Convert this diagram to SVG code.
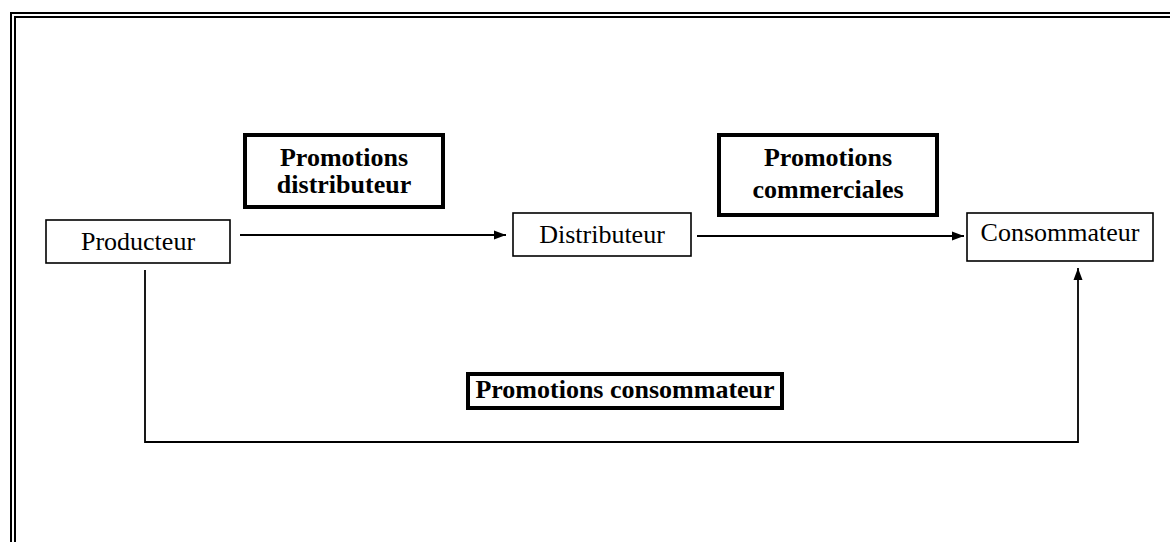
<svg xmlns="http://www.w3.org/2000/svg" width="1170" height="542" viewBox="0 0 1170 542">
<style>
.frame{stroke:#000;stroke-width:2;fill:none}
.node{fill:#fff;stroke:#000;stroke-width:1.6}
.label{fill:#fff;stroke:#000;stroke-width:4}
.t{font-family:"Liberation Serif","Times New Roman",serif;font-size:26px;fill:#000;text-anchor:middle}
.b{font-family:"Liberation Serif","Times New Roman",serif;font-size:26px;font-weight:bold;fill:#000;text-anchor:middle}
.edge{stroke:#000;stroke-width:1.8;fill:none}
</style>
<defs>
<marker id="arr" viewBox="0 0 12 10" refX="12" refY="5" markerWidth="12" markerHeight="10" markerUnits="userSpaceOnUse" orient="auto">
<path d="M0,0.5 L12,5 L0,9.5 Z" fill="#000"/>
</marker>
</defs>
<rect width="1170" height="542" fill="#fff"/>
<g id="frame">
<path class="frame" d="M11,542 V13 H1170"/>
<path class="frame" d="M15,542 V17 H1170"/>
</g>
<g id="connectors">
<path class="edge" d="M240,235 H506" marker-end="url(#arr)"/>
<path class="edge" d="M697,236 H964" marker-end="url(#arr)"/>
<path class="edge" d="M145,270 V442 H1078 V268" marker-end="url(#arr)"/>
</g>
<g id="producteur">
<rect class="node" x="46" y="220" width="184" height="43"/>
<text class="t" x="138" y="250">Producteur</text>
</g>
<g id="distributeur">
<rect class="node" x="513" y="213" width="178" height="43"/>
<text class="t" x="602" y="243">Distributeur</text>
</g>
<g id="consommateur">
<rect class="node" x="967" y="213" width="186" height="48"/>
<text class="t" x="1060" y="241">Consommateur</text>
</g>
<g id="promo-distributeur">
<rect class="label" x="245" y="135" width="198" height="72"/>
<text class="b" x="344" y="166">Promotions</text>
<text class="b" x="344" y="193">distributeur</text>
</g>
<g id="promo-commerciales">
<rect class="label" x="719" y="135" width="218" height="80"/>
<text class="b" x="828" y="166">Promotions</text>
<text class="b" x="828" y="198">commerciales</text>
</g>
<g id="promo-consommateur">
<rect class="label" x="468" y="374" width="314" height="34"/>
<text class="b" x="625" y="398">Promotions consommateur</text>
</g>
</svg>
